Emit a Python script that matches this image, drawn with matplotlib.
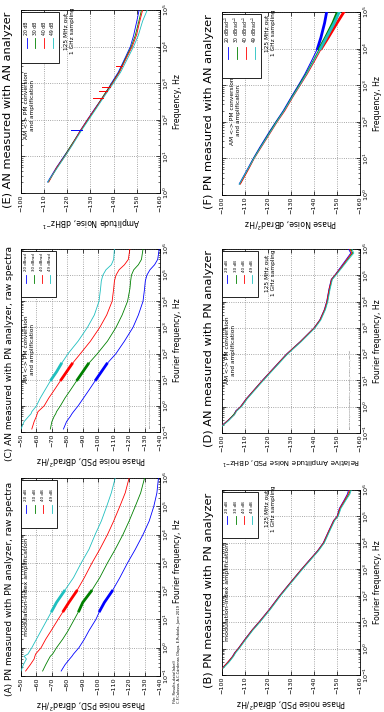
import numpy as np
import matplotlib
matplotlib.use("Agg")
import matplotlib.pyplot as plt
from matplotlib.ticker import LogLocator, LogFormatterMathtext, MultipleLocator, NullFormatter
from matplotlib.patches import Rectangle

plt.rcParams['font.family'] = ['DejaVu Sans']

# ---------------- data ----------------
SERIES = ['20 dB', '30 dB', '40 dB', '49 dB']
LEG_C = ['20 dBrad', '30 dBrad', '40 dBrad', '49 dBrad']
LEG_F = ['20 dBrad$^{-1}$', '30 dBrad$^{-1}$', '40 dBrad$^{-1}$', '49 dBrad$^{-1}$']
COLORS = ['#0000ff', '#008000', '#ff0000', '#1fbfbf']

# (A) PN measured with PN analyzer, raw spectra
A_freq = [0.15, 0.25, 0.4, 0.5, 0.6, 1, 2, 4, 10, 20, 40, 100, 300, 1e3, 3e3, 1e4, 3e4, 1e5, 3e5, 1e6]
A_20 = [-76, -78.5, -81.5, -83, -84, -87.5, -91, -94, -98.5, -101, -104, -109, -114, -119, -124, -129, -133, -136, -138, -139]
A_30 = [-64, -66, -68, -69, -70.5, -73, -77, -80.5, -84.5, -87.5, -90, -95.5, -101, -106, -111, -116, -120, -124, -127.5, -130]
A_40 = [-53, -56, -58.5, -59, -59.5, -63, -66, -69.5, -74, -77.5, -81, -86, -91, -96, -101, -106, -110, -114, -117.5, -120]
A_49 = [-50, -51.5, -53.5, -52, -54.5, -57, -60, -63, -67, -70, -73, -78, -84, -89, -94, -98, -102, -105.5, -108.5, -111]

# (C) AN measured with PN analyzer, raw spectra
C_freq = [0.13, 0.25, 0.4, 0.5, 0.6, 1, 2, 4, 10, 20, 40, 100, 300, 1e3, 3e3, 1e4, 3e4, 6e4, 1e5, 1.6e5, 2.5e5, 4e5, 1e6]
C_20 = [-77.5, -79.5, -82, -83, -84, -87, -90.5, -94, -98.5, -102, -105.5, -111.5, -117, -122.5, -126, -129, -130, -130.5, -131.5, -133.5, -136.5, -138.5, -139.5]
C_30 = [-69, -70, -71.5, -72.5, -73, -75.5, -78.5, -82, -86.5, -90, -93.5, -99.5, -106, -111.5, -115.5, -119, -120.5, -121, -121.5, -123, -126, -128, -129]
C_40 = [-57, -58.5, -60, -60.5, -61, -65, -68, -71.5, -76, -79.5, -83, -88.5, -95, -101, -105.5, -109, -110, -110.5, -111.5, -113.5, -117, -119.5, -120.5]
C_49 = [-50, -52, -55, -56.5, -57, -60, -62.5, -65.5, -69.5, -73, -76, -80.5, -87, -93, -97.5, -100.5, -101.5, -102, -103, -105, -108.5, -110, -110.5]

# (E) AN measured with AN analyzer
E_freq = [2, 5, 10, 20, 50, 100, 200, 500, 1e3, 2e3, 5e3, 1e4, 2e4, 5e4, 1e5]
E_20 = [-111.5, -115.3, -118.5, -121.8, -125.5, -128.6, -131.8, -136.2, -139.0, -142.0, -145.0, -147.2, -148.6, -150.0, -151.0]
E_30 = [-111.8, -115.6, -118.7, -121.6, -125.8, -128.9, -132.1, -136.0, -139.3, -142.3, -145.3, -147.6, -149.3, -150.9, -152.0]
E_40 = [-112.0, -115.4, -118.9, -121.9, -125.6, -128.7, -132.0, -136.3, -139.5, -142.5, -145.6, -148.0, -149.8, -151.3, -152.5]
E_49 = [-111.6, -115.8, -119.0, -122.1, -126.0, -129.2, -132.4, -136.6, -139.9, -143.0, -146.2, -148.6, -150.6, -152.5, -154.5]
E_spike_20_freq = [52]
E_spike_20_from = [-126.2]
E_spike_20_to = [-121.5]
E_spike_40_freq = [400, 600, 800, 3000]
E_spike_40_from = [-135.3, -137.2, -138.6, -143.8]
E_spike_40_to = [-131.0, -133.5, -135.0, -141.0]

# (F) PN measured with AN analyzer
F_freq = [2, 5, 10, 20, 50, 100, 200, 500, 1e3, 2e3, 5e3, 1e4, 2e4, 5e4, 1e5]
F_20 = [-107.5, -111.0, -113.6, -116.4, -120.3, -123.4, -126.6, -130.3, -133.2, -136.0, -139.2, -141.5, -143.0, -144.6, -145.5]
F_30 = [-107.8, -111.3, -113.8, -116.7, -120.6, -123.6, -126.9, -130.6, -133.5, -136.4, -139.9, -142.4, -145.0, -148.2, -150.2]
F_40 = [-108.0, -111.5, -114.0, -117.0, -121.0, -124.0, -127.3, -131.0, -134.0, -137.0, -140.6, -143.2, -146.2, -150.0, -153.0]
F_49 = [-107.6, -111.2, -113.9, -116.8, -120.8, -123.8, -127.0, -130.8, -133.8, -136.7, -140.2, -142.8, -145.4, -148.8, -151.0]

# (D) AN measured with PN analyzer
D_freq = [0.18, 0.3, 0.5, 0.7, 1, 2, 5, 10, 30, 100, 300, 1e3, 2e3, 5e3, 1e4, 3e4, 7e4, 1e5, 2e5, 4e5, 7e5, 1e6]
D_20 = [-99.5, -102.5, -105.2, -106.0, -108.0, -110.5, -114.5, -117.5, -122.5, -128.0, -134.0, -140.0, -142.5, -144.5, -145.5, -146.5, -147.5, -149.0, -151.5, -154.0, -156.0, -155.0]
D_30 = [-99.8, -102.8, -105.0, -106.3, -108.3, -110.8, -114.7, -117.8, -122.8, -128.3, -134.2, -140.2, -142.7, -144.8, -145.8, -146.8, -147.8, -149.3, -152.0, -154.6, -156.8, -156.0]
D_40 = [-99.6, -102.6, -105.4, -106.2, -108.1, -110.6, -114.6, -117.6, -122.6, -128.1, -134.1, -140.1, -142.6, -144.6, -145.6, -146.6, -147.6, -149.1, -151.8, -154.3, -156.4, -155.5]
D_49 = [-100.0, -103.0, -105.5, -106.5, -108.5, -111.0, -115.0, -118.0, -123.0, -128.5, -134.5, -140.5, -143.0, -145.0, -146.0, -147.0, -148.0, -149.5, -152.3, -155.0, -157.3, -156.5]

# (B) PN measured with PN analyzer
B_freq = [0.18, 0.3, 0.5, 0.7, 1, 2, 5, 10, 30, 100, 300, 1e3, 2e3, 5e3, 1e4, 3e4, 7e4, 1e5, 2e5, 4e5, 7e5, 1e6]
B_20 = [-100.0, -102.5, -104.5, -105.5, -107.0, -109.5, -113.0, -116.0, -120.5, -125.0, -129.5, -134.5, -137.5, -141.5, -144.0, -146.5, -148.5, -150.0, -151.0, -153.0, -154.5, -155.0]
B_30 = [-100.3, -102.7, -104.8, -105.8, -107.2, -109.8, -113.2, -116.3, -120.8, -125.3, -129.7, -134.7, -137.8, -141.8, -144.3, -146.8, -148.8, -150.3, -151.4, -153.5, -155.2, -155.8]
B_40 = [-100.1, -102.4, -104.6, -105.6, -107.1, -109.6, -113.1, -116.1, -120.6, -125.1, -129.6, -134.6, -137.6, -141.6, -144.1, -146.6, -148.6, -150.1, -151.2, -153.2, -154.8, -155.4]
B_49 = [-100.5, -103.0, -105.0, -106.0, -107.5, -110.0, -113.5, -116.5, -121.0, -125.5, -130.0, -135.0, -138.0, -142.0, -144.5, -147.0, -149.0, -150.5, -151.7, -153.8, -155.6, -156.2]

TITLES = {
    'A': '(A) PN measured with PN analyzer, raw spectra',
    'B': '(B) PN measured with PN analyzer',
    'C': '(C) AN measured with PN analyzer, raw spectra',
    'D': '(D) AN measured with PN analyzer',
    'E': '(E) AN measured with AN analyzer',
    'F': '(F) PN measured with AN analyzer',
}

# ---------------- figure ----------------
W, H = 384, 712
fig = plt.figure(figsize=(W / 100, H / 100), dpi=100)
fig.patch.set_facecolor('white')


def axes_px(x0, x1, y0, y1):
    return fig.add_axes([x0 / W, 1 - y1 / H, (x1 - x0) / W, (y1 - y0) / H])


def setup(ax, dbrange, frange, title, xlabel, ylabel, tfs=8.2, tpos=0.46, tx=-0.095, xfs=5.6):
    ax.set_xlim(dbrange[0], dbrange[1])
    ax.set_yscale('log')
    ax.set_ylim(frange[0], frange[1])
    ax.xaxis.set_major_locator(MultipleLocator(10))
    ax.yaxis.set_major_locator(LogLocator(base=10, numticks=20))
    ax.yaxis.set_minor_locator(LogLocator(base=10, subs=np.arange(2, 10), numticks=20))
    ax.yaxis.set_minor_formatter(NullFormatter())
    ax.yaxis.set_major_formatter(LogFormatterMathtext())
    ax.yaxis.tick_right()
    ax.yaxis.set_label_position('right')
    ax.tick_params(axis='both', which='both', direction='in', top=True, bottom=True,
                   left=True, right=True, labelsize=4.6, pad=1.2)
    ax.tick_params(axis='both', which='major', length=3, width=0.5)
    ax.tick_params(axis='both', which='minor', length=1.5, width=0.4)
    ax.tick_params(axis='x', labelrotation=90)
    ax.tick_params(axis='y', labelrotation=90)
    for lab in ax.get_yticklabels():
        lab.set_verticalalignment('center')
    ax.grid(True, which='major', color='0.55', linestyle=':', linewidth=0.6)
    for s in ax.spines.values():
        s.set_linewidth(0.6)
    ax.set_xlabel(xlabel, rotation=180, fontsize=xfs, labelpad=1.5)
    ax.set_ylabel(ylabel, rotation=90, fontsize=5.6, labelpad=1.5)
    ax.text(tx, tpos, title, transform=ax.transAxes, rotation=90,
            ha='center', va='center', fontsize=tfs)


def rot_legend(ax, labels, x0, x1, y0, y1, fs=3.3):
    # legend drawn rotated by 90 degrees (axes fractions)
    ax.add_patch(Rectangle((x0, y0), x1 - x0, y1 - y0, transform=ax.transAxes,
                           facecolor='white', edgecolor='black', linewidth=0.6, zorder=5))
    n = len(labels)
    step = (x1 - x0) / (n + 0.3)
    for i, (lab, c) in enumerate(zip(labels, COLORS)):
        xc = x0 + step * (i + 0.65)
        ax.plot([xc, xc], [y0 + 0.30 * (y1 - y0), y0 + 0.48 * (y1 - y0)], color=c, lw=0.6,
                transform=ax.transAxes, zorder=6)
        ax.text(xc, y0 + 0.55 * (y1 - y0), lab, transform=ax.transAxes, rotation=90,
                ha='center', va='bottom', fontsize=fs, zorder=6)


def draw(ax, freq, curves, band=None, lw=0.6):
    f = np.asarray(freq)
    for vals, c in zip(curves, COLORS):
        v = np.asarray(vals)
        ax.plot(v, f, color=c, lw=lw, zorder=3)
        if band is not None:
            m = (f >= band[0]) & (f <= band[1])
            ax.plot(v[m], f[m], color=c, lw=2.0, zorder=3)


def note(ax, x, y, s, fs=4.2):
    ax.text(x, y, s, transform=ax.transAxes, rotation=90, ha='center', va='center',
            fontsize=fs, multialignment='center', zorder=4)


PSD_LABEL = 'Phase noise PSD, dBrad$^2$/Hz'
FOURIER = 'Fourier frequency, Hz'

# (E)
axE = axes_px(21, 160, 10, 193)
setup(axE, (-100, -160), (1, 1e5), TITLES['E'], 'Amplitude Noise, dBHz$^{-1}$', 'Frequency, Hz', tpos=0.455)
draw(axE, E_freq, [E_20, E_30, E_40, E_49])
for fq, a, b in zip(E_spike_20_freq, E_spike_20_from, E_spike_20_to):
    axE.plot([a, b], [fq, fq], color=COLORS[0], lw=0.7, zorder=3)
for fq, a, b in zip(E_spike_40_freq, E_spike_40_from, E_spike_40_to):
    axE.plot([a, b], [fq, fq], color=COLORS[2], lw=0.7, zorder=3)
rot_legend(axE, SERIES, 0.0, 0.27, 0.71, 0.99)
note(axE, 0.06, 0.48, 'AM <-> PM conversion\nand amplification')
note(axE, 0.35, 0.885, '125 MHz out\n1 GHz sampling')

# (C)
axC = axes_px(21, 160, 249, 432)
setup(axC, (-50, -140), (0.1, 1e6), TITLES['C'], PSD_LABEL, FOURIER, tfs=6.5, tpos=0.43, tx=-0.085)
draw(axC, C_freq, [C_20, C_30, C_40, C_49], band=(8, 60))
rot_legend(axC, LEG_C, 0.0, 0.25, 0.74, 0.99, fs=2.8)
note(axC, 0.06, 0.45, 'AM <-> PM conversion\nand amplification')

# (A)
axA = axes_px(21, 160, 478, 676)
setup(axA, (-50, -140), (0.1, 1e6), TITLES['A'], PSD_LABEL, FOURIER, tfs=6.5, tpos=0.44, tx=-0.085)
axA.yaxis.set_label_coords(1.095, 0.58)
draw(axA, A_freq, [A_20, A_30, A_40, A_49], band=(15, 150))
rot_legend(axA, SERIES, 0.0, 0.26, 0.75, 0.99, fs=3.0)
note(axA, 0.04, 0.45, 'modulation-index amplification', fs=4.5)

# (F)
axF = axes_px(222, 360, 12, 195)
setup(axF, (-100, -160), (1, 1e5), TITLES['F'], 'Phase Noise, dBrad$^2$/Hz', 'Frequency, Hz', tpos=0.455)
draw(axF, F_freq, [F_20, F_30, F_40, F_49], band=(1e4, 1e5), lw=0.7)
rot_legend(axF, LEG_F, 0.0, 0.28, 0.64, 0.99)
note(axF, 0.1, 0.46, 'AM <-> PM conversion\nand amplification')
note(axF, 0.35, 0.885, '125 MHz out\n1 GHz sampling')

# (D)
axD = axes_px(222, 360, 249, 433)
setup(axD, (-100, -160), (0.1, 1e6), TITLES['D'], 'Relative Amplitude Noise PSD, dBHz$^{-1}$', FOURIER, xfs=5.1)
draw(axD, D_freq, [D_20, D_30, D_40, D_49])
rot_legend(axD, SERIES, 0.0, 0.26, 0.74, 0.99, fs=3.0)
note(axD, 0.06, 0.45, 'AM <-> PM conversion\nand amplification')
note(axD, 0.35, 0.87, '125 MHz out\n1 GHz sampling')

# (B)
axB = axes_px(222, 360, 490, 675)
setup(axB, (-100, -160), (0.1, 1e6), TITLES['B'], PSD_LABEL, FOURIER)
draw(axB, B_freq, [B_20, B_30, B_40, B_49])
rot_legend(axB, SERIES, 0.0, 0.26, 0.74, 0.99, fs=3.0)
note(axB, 0.04, 0.45, 'modulation-index amplification', fs=4.5)
note(axB, 0.35, 0.9, '125 MHz out\n1 GHz sampling')

# tiny file tags inside C and D
for ax in (axC, axD):
    ax.text(0.93, 0.02, 'Results-data/ConditionedSpectrum_PNanalyzer_125MHz_1GHz_label.txt',
            transform=ax.transAxes, rotation=90, ha='center', va='bottom', fontsize=1.6, color='0.3')

# footnote
fig.text(177 / W, 1 - 703 / H, 'File: Results-data(label)\nC.F.Calosso, A.C.Cárdenas Olaya, E.Rubiola, June 2019',
         rotation=90, ha='center', va='bottom', fontsize=2.6, multialignment='left')

fig.savefig('out.png', dpi=100, facecolor='white')
